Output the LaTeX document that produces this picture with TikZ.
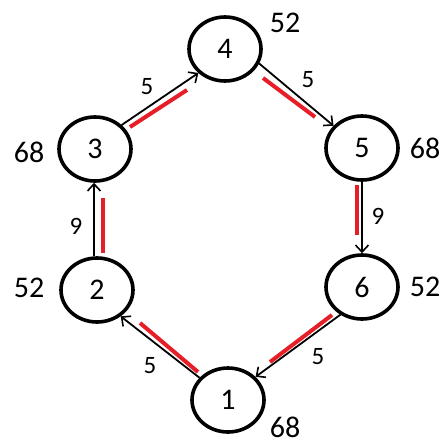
\documentclass[tikz,border=0pt]{standalone}
\usepackage{fontspec}
\setmainfont{Carlito}
\usetikzlibrary{arrows.meta,shapes.geometric}
\begin{document}
\begin{tikzpicture}[x=1pt,y=-1pt,
  vert/.style={draw=black,line width=3.6pt,ellipse,minimum width=72pt,minimum height=64pt,inner sep=0pt,font=\fontsize{30}{30}\selectfont},
  wlab/.style={inner sep=0.5pt,font=\fontsize{30}{30}\selectfont},
  elab/.style={font=\fontsize{25}{25}\selectfont},
  arc/.style={draw=black,line width=1.8pt,-{Straight Barb[length=7pt,width=13pt,line width=1.6pt]}},
  hl/.style={draw={rgb,255:red,230;green,30;blue,40},line width=4pt}]
\useasboundingbox (0,0) rectangle (446,442);
\node[vert] (n1) at (228,400) {1};
\node[vert] (n2) at (97,290) {2};
\node[vert] (n3) at (95,149) {3};
\node[vert] (n4) at (225,49) {4};
\node[vert] (n5) at (362,148) {5};
\node[vert] (n6) at (362,287) {6};
\node[wlab] (w4) at (285,23) {52};
\node[wlab] (w3) at (29,152) {68};
\node[wlab] (w2) at (29,288) {52};
\node[wlab] (w5) at (425,148) {68};
\node[wlab] (w6) at (425,287) {52};
\node[wlab] (w1) at (285,427) {68};
\draw[arc] (n3.42) -- (n4.222);
\draw[arc] (n4.337) -- (n5.142);
\draw[arc] (n2.north) ++(-3,0) coordinate (s23) (s23) -- (s23 |- n3.south);
\draw[arc] (n5.south) -- (n6.north);
\draw[arc] (n1.142) -- (n2.312);
\draw[arc] (n6.232) -- (n1.40);
\coordinate (a34) at (130,127); \coordinate (b34) at (187,90);
\coordinate (a45) at (263,78);  \coordinate (b45) at (315,117);
\coordinate (a23) at (103,198); \coordinate (b23) at (103,253);
\coordinate (a56) at (357,185); \coordinate (b56) at (357,235);
\coordinate (a12) at (140,323); \coordinate (b12) at (198,372);
\coordinate (a61) at (332,315); \coordinate (b61) at (270,362);
\draw[hl] (a34) -- (b34);
\draw[hl] (a45) -- (b45);
\draw[hl] (a23) -- (b23);
\draw[hl] (a56) -- (b56);
\draw[hl] (a12) -- (b12);
\draw[hl] (a61) -- (b61);
\node[elab] (e34) at (147,87) {5};
\node[elab] (e45) at (308,80) {5};
\node[elab] (e23) at (76,226) {9};
\node[elab] (e56) at (378,216) {9};
\node[elab] (e12) at (150,366) {5};
\node[elab] (e61) at (318,357) {5};
\end{tikzpicture}
\end{document}
